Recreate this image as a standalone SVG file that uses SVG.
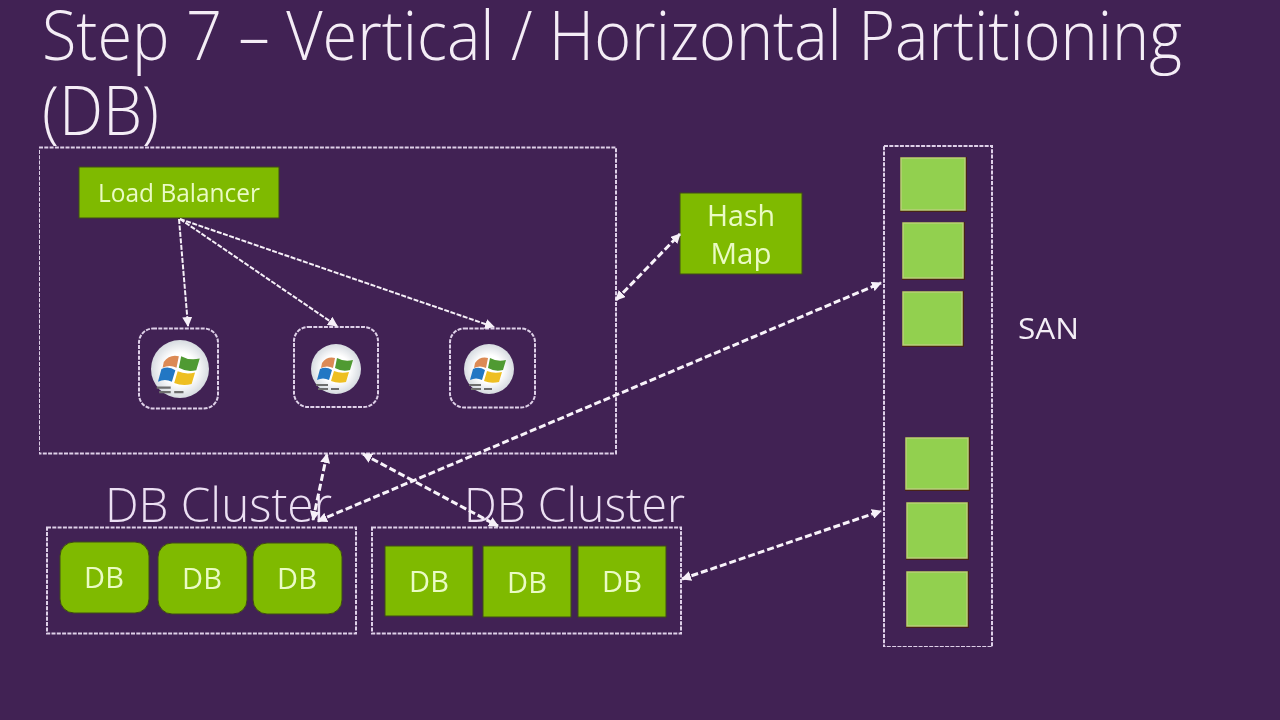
<svg xmlns="http://www.w3.org/2000/svg" width="1280" height="720" viewBox="0 0 1280 720">
<style>
text{font-family:"Open Sans","Noto Sans","Liberation Sans",sans-serif}
.title{font-size:68px;font-weight:300;fill:#f4edf6}
.clu{font-size:48px;font-weight:300;fill:#ece0f3}
.lab{font-size:25px;fill:#eafbc4;text-anchor:middle}
.db{font-size:29px}
.hm{font-size:29px}
.box{fill:none;stroke:#ded0e8;stroke-width:2;stroke-dasharray:4 1.3}
.g{fill:#7fba00;stroke:#3f4a14;stroke-width:1}
.s{fill:#92d050;stroke:#b9cf7a;stroke-width:1.5}
.sh{fill:#4a2418}
.a{fill:none;stroke:#f6f0f8;stroke-width:2;stroke-dasharray:5 1.5;marker-end:url(#ah)}
.b{fill:none;stroke:#f8f3fa;stroke-width:3;stroke-dasharray:7 3;marker-end:url(#ah);marker-start:url(#ahs)}
</style>
<defs>
<filter id="soft" x="0" y="0" width="100%" height="100%" filterUnits="objectBoundingBox"><feGaussianBlur stdDeviation="0.55"/></filter>
<marker id="ah" viewBox="0 0 10 10" refX="9" refY="5" markerWidth="10" markerHeight="10" markerUnits="userSpaceOnUse" orient="auto"><path d="M0 0L10 5L0 10z" fill="#f6f0f8"/></marker>
<marker id="ahs" viewBox="0 0 10 10" refX="1" refY="5" markerWidth="10" markerHeight="10" markerUnits="userSpaceOnUse" orient="auto"><path d="M10 0L0 5L10 10z" fill="#f6f0f8"/></marker>
<radialGradient id="disc" cx="50%" cy="50%" r="50%"><stop offset="0.55" stop-color="#ffffff"/><stop offset="1" stop-color="#d6dbe0"/></radialGradient>
<g id="win">
<circle r="25" fill="url(#disc)"/>
<path d="M-14 -6Q-9 -13 -1 -11L-3 -1Q-9 -4 -15 -1z" fill="#dc8a55"/>
<path d="M1 -11Q8 -7 17 -9L14 1Q6 3 -1 -1z" fill="#4f9a30"/>
<path d="M-16 0Q-10 -3 -4 1L-7 11Q-13 8 -19 11z" fill="#2277c4"/>
<path d="M-2 2Q5 5 13 3L10 13Q2 15 -5 12z" fill="#eebf22"/>
<path d="M-20 15h12v2h-12zM-18 19h10v2h-10zM-5 19h8v2h-8z" fill="#6e6e6e"/>
</g>
</defs>
<rect width="1280" height="720" fill="#412254"/>
<g filter="url(#soft)">
<text class="title" x="42" y="60" textLength="1140" lengthAdjust="spacingAndGlyphs">Step 7 – Vertical / Horizontal Partitioning</text>
<text class="title" x="42" y="135" textLength="117" lengthAdjust="spacingAndGlyphs">(DB)</text>

<g id="lb-group"><rect class="box" x="39" y="147.500" width="577" height="306"/></g>
<g id="load-balancer"><rect class="g" x="79" y="167" width="200" height="51"/><text class="lab" x="179" y="202" textLength="162" lengthAdjust="spacingAndGlyphs">Load Balancer</text></g>
<g id="server-1"><rect class="box" x="139" y="328.500" width="79" height="80" rx="14"/><use href="#win" transform="translate(180 369) scale(1.16)"/></g>
<g id="server-2"><rect class="box" x="294" y="327" width="84" height="80" rx="14"/><use href="#win" transform="translate(336 369)"/></g>
<g id="server-3"><rect class="box" x="450" y="328.500" width="85" height="79" rx="14"/><use href="#win" transform="translate(489 369)"/></g>
<g id="hash-map"><rect class="g" x="680" y="193" width="122" height="81"/><text class="lab hm" x="741" y="226" textLength="68" lengthAdjust="spacingAndGlyphs">Hash</text><text class="lab hm" x="741" y="264" textLength="61" lengthAdjust="spacingAndGlyphs">Map</text></g>

<g id="cluster-1"><text class="clu" x="105" y="522" textLength="227" lengthAdjust="spacingAndGlyphs">DB Cluster</text>
<rect class="box" x="47" y="527.500" width="309" height="106"/>
<rect class="g" x="60" y="542" width="89" height="71" rx="14"/><text class="lab db" x="104" y="588">DB</text>
<rect class="g" x="158" y="543" width="89" height="71" rx="14"/><text class="lab db" x="202" y="589">DB</text>
<rect class="g" x="253" y="543" width="89" height="71" rx="14"/><text class="lab db" x="297" y="589">DB</text></g>
<g id="cluster-2"><text class="clu" x="464" y="522" textLength="221" lengthAdjust="spacingAndGlyphs">DB Cluster</text>
<rect class="box" x="372" y="527.500" width="309" height="106"/>
<rect class="g" x="385" y="546" width="88" height="70"/><text class="lab db" x="429" y="592">DB</text>
<rect class="g" x="483" y="546" width="88" height="71"/><text class="lab db" x="527" y="593">DB</text>
<rect class="g" x="578" y="546" width="88" height="71"/><text class="lab db" x="622" y="592">DB</text></g>

<g id="san"><rect class="box" x="884" y="146" width="108" height="501"/>
<rect class="sh" x="900" y="157" width="67" height="55"/><rect class="s" x="901" y="158" width="64" height="52"/>
<rect class="sh" x="902" y="222" width="63" height="58"/><rect class="s" x="903" y="223" width="60" height="55"/>
<rect class="sh" x="902" y="291" width="62" height="56"/><rect class="s" x="903" y="292" width="59" height="53"/>
<rect class="sh" x="905" y="437" width="65" height="54"/><rect class="s" x="906" y="438" width="62" height="51"/>
<rect class="sh" x="906" y="502" width="63" height="58"/><rect class="s" x="907" y="503" width="60" height="55"/>
<rect class="sh" x="906" y="571" width="63" height="57"/><rect class="s" x="907" y="572" width="60" height="54"/>
<text x="1018" y="339" textLength="61" lengthAdjust="spacingAndGlyphs" style="font-size:29px;fill:#f4eef6">SAN</text></g>

<g id="connectors">
<path class="a" d="M179 219L188 326"/>
<path class="a" d="M180 219L337 326"/>
<path class="a" d="M180 219L494 327"/>
<path class="b" d="M616 300L680 234"/>
<path class="b" d="M313 520L327 454"/>
<path class="b" d="M363 454L498 526"/>
<path class="b" d="M318 521L881 283"/>
<path class="b" d="M682 579L881 511"/>
</g>
</g>
</svg>
